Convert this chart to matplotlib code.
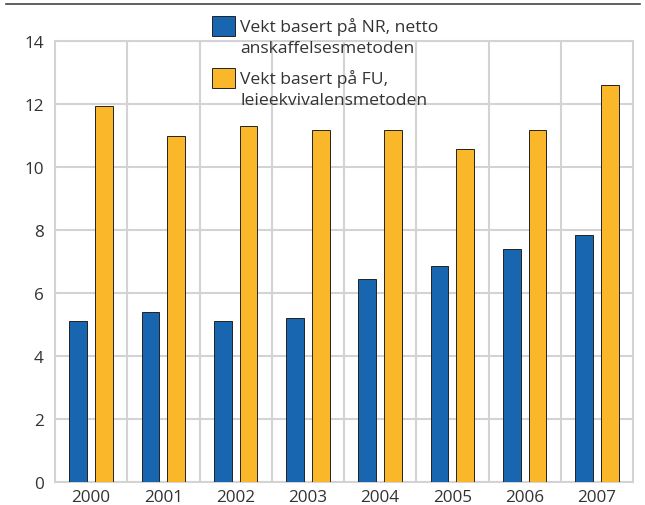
import numpy as np
import matplotlib
matplotlib.use("Agg")
import matplotlib.pyplot as plt
from matplotlib.patches import Rectangle
from matplotlib.lines import Line2D

plt.rcParams['font.family'] = ['Open Sans', 'DejaVu Sans']

years = ['2000', '2001', '2002', '2003', '2004', '2005', '2006', '2007']
nr_vals = [5.10, 5.40, 5.10, 5.22, 6.43, 6.87, 7.41, 7.83]
fu_vals = [11.94, 10.98, 11.30, 11.17, 11.17, 10.57, 11.17, 12.60]
labels = ['Vekt basert på NR, netto\nanskaffelsesmetoden',
          'Vekt basert på FU,\nleieekvivalensmetoden']

blue = '#1866B0'
orange = '#FBB72A'
grid_c = '#D3D3D3'
text_c = '#333333'

W, H = 645, 506
fig = plt.figure(figsize=(W / 100, H / 100), dpi=100)
ax = fig.add_axes([55 / W, 1 - 483 / H, (633 - 55) / W, (483 - 42) / H])

x = np.arange(len(years))
bw = 0.245
off = 0.177
ax.bar(x - off, nr_vals, bw, color=blue, edgecolor='#222222', linewidth=0.7, zorder=3)
ax.bar(x + off, fu_vals, bw, color=orange, edgecolor='#222222', linewidth=0.7, zorder=3)

ax.set_xlim(-0.5, len(years) - 0.5)
ax.set_ylim(0, 14)
ax.set_yticks(np.arange(0, 15, 2))
ax.set_xticks(x)
ax.set_xticklabels(years)
ax.set_xticks(np.arange(0.5, len(years) - 0.5, 1), minor=True)

ax.grid(axis='y', which='major', color=grid_c, linewidth=1.5, zorder=0)
ax.grid(axis='x', which='minor', color=grid_c, linewidth=1.5, zorder=0)
ax.tick_params(which='both', length=0, labelsize=12.3, colors=text_c)
ax.tick_params(axis='y', pad=8)
ax.tick_params(axis='x', pad=5)
for s in ax.spines.values():
    s.set_color(grid_c)
    s.set_linewidth(1.5)

# top rule
fig.add_artist(Line2D([6 / W, 640 / W], [1 - 5 / H, 1 - 5 / H],
                      color='#444444', linewidth=1.2, transform=fig.transFigure))

# legend drawn by hand so the patch sits at the first line of each label
for i, (lab, col) in enumerate(zip(labels, [blue, orange])):
    ytop = 17 + i * 52
    fig.add_artist(Rectangle((212 / W, 1 - (ytop + 20) / H), 23 / W, 20 / H,
                             facecolor=col, edgecolor='#222222', linewidth=0.7,
                             transform=fig.transFigure))
    fig.text(240 / W, 1 - (ytop + 1) / H, lab, ha='left', va='top',
             fontsize=12.6, color=text_c, linespacing=1.38)

fig.savefig('out.png', dpi=100)
